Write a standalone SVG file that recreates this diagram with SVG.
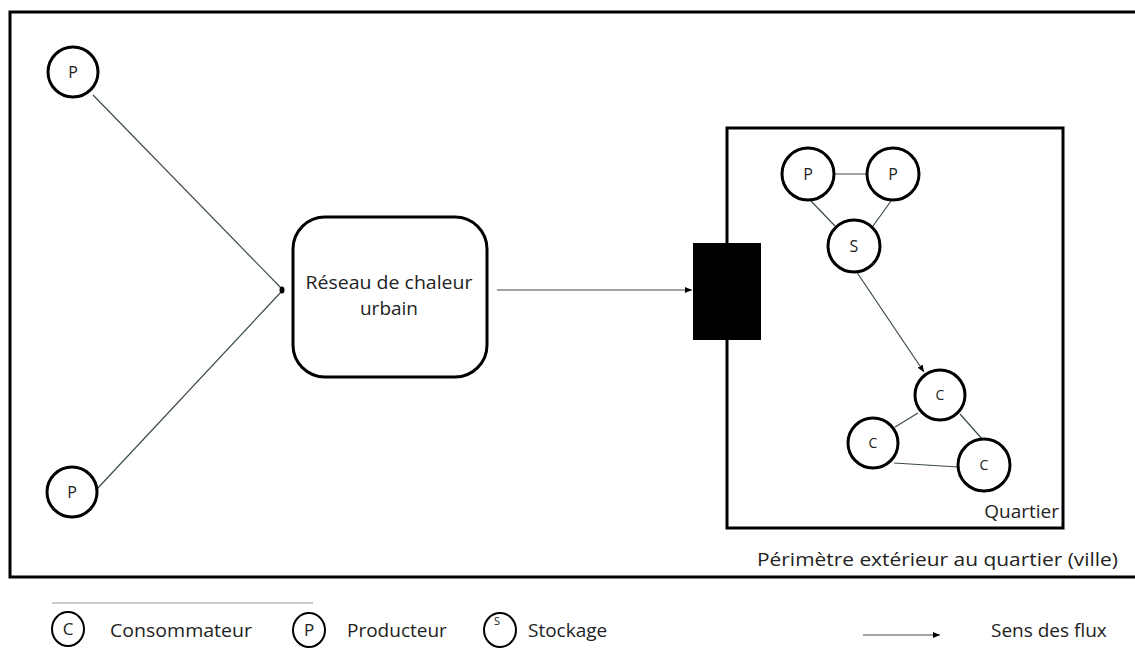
<svg xmlns="http://www.w3.org/2000/svg" width="1135" height="648" viewBox="0 0 1135 648">
<style>
.frame{fill:none;stroke:#000;stroke-width:3}
.node{fill:#fff;stroke:#000;stroke-width:3}
.lg{fill:#fff;stroke:#000;stroke-width:2}
.edge{fill:none;stroke:#3a4a4a;stroke-width:1.2}
text{font-family:"Open Sans","Liberation Sans",sans-serif;fill:#222}
.lbl{font-size:19px;text-anchor:middle}
.sm{font-size:16px;text-anchor:middle}
.c{font-size:14px;text-anchor:middle}
.t{font-size:19px}
</style>
<defs>
<marker id="ah" markerWidth="8" markerHeight="8" refX="7" refY="4" orient="auto" markerUnits="userSpaceOnUse">
<path d="M0,1 L7,4 L0,7 Z" fill="#000"/>
</marker>
</defs>
<rect width="1135" height="648" fill="#fff"/>
<g id="outer-frame">
<path class="frame" d="M1140,12 H10 V577 H1140"/>
<text class="t" x="757" y="566" textLength="361" lengthAdjust="spacingAndGlyphs">Périmètre extérieur au quartier (ville)</text>
</g>
<g id="quartier">
<rect class="frame" x="727" y="128" width="336" height="400"/>
<text class="t" x="1059" y="518" text-anchor="end">Quartier</text>
</g>
<g id="connectors">
<line class="edge" x1="93" y1="95" x2="282" y2="289"/>
<line class="edge" x1="97" y1="489" x2="282" y2="291"/>
<line class="edge" x1="497" y1="290" x2="692" y2="290" marker-end="url(#ah)"/>
<line class="edge" x1="834" y1="174" x2="867" y2="174"/>
<line class="edge" x1="811" y1="201" x2="835" y2="226"/>
<line class="edge" x1="891" y1="201" x2="873" y2="226"/>
<line class="edge" x1="856" y1="271" x2="924" y2="372" marker-end="url(#ah)"/>
<line class="edge" x1="918" y1="413" x2="895" y2="427"/>
<line class="edge" x1="960" y1="414" x2="983" y2="440"/>
<line class="edge" x1="894" y1="463" x2="958" y2="467"/>
<ellipse cx="282" cy="290" rx="2.5" ry="3.5" fill="#000"/>
</g>
<g id="p-top"><circle class="node" cx="73" cy="72" r="25"/><text class="sm" x="73" y="78">P</text></g>
<g id="p-bottom"><circle class="node" cx="72" cy="492" r="25"/><text class="sm" x="72" y="498">P</text></g>
<g id="reseau">
<rect class="frame" x="293" y="217" width="194" height="160" rx="32" stroke-width="2.5"/>
<text class="lbl" x="389" y="289" textLength="167" lengthAdjust="spacingAndGlyphs">Réseau de chaleur</text>
<text class="lbl" x="389" y="315">urbain</text>
</g>
<g id="jonction"><rect x="693" y="243" width="68" height="97" fill="#000"/></g>
<g id="q-p1"><circle class="node" cx="808" cy="174" r="26"/><text class="sm" x="808" y="180">P</text></g>
<g id="q-p2"><circle class="node" cx="893" cy="174" r="26"/><text class="sm" x="893" y="180">P</text></g>
<g id="q-s"><circle class="node" cx="854" cy="246" r="26"/><text class="sm" x="854" y="252">S</text></g>
<g id="q-c1"><circle class="node" cx="940" cy="395" r="25"/><text class="c" x="940" y="400">C</text></g>
<g id="q-c2"><circle class="node" cx="873" cy="443" r="25"/><text class="c" x="873" y="448">C</text></g>
<g id="q-c3"><circle class="node" cx="984" cy="465" r="26"/><text class="c" x="984" y="470">C</text></g>
<g id="legend">
<line x1="52" y1="603" x2="313" y2="603" stroke="#8a9a9a" stroke-width="1"/>
<ellipse class="lg" cx="68" cy="629" rx="16" ry="17"/><text x="68" y="635" font-size="17" text-anchor="middle">C</text>
<text class="t" x="110" y="637" textLength="142" lengthAdjust="spacingAndGlyphs">Consommateur</text>
<ellipse class="lg" cx="309" cy="630" rx="16" ry="17"/><text x="309" y="636" font-size="17" text-anchor="middle">P</text>
<text class="t" x="347" y="637">Producteur</text>
<ellipse class="lg" cx="500" cy="630" rx="16" ry="17"/><text x="497" y="625" font-size="11" text-anchor="middle">S</text>
<text class="t" x="528" y="637">Stockage</text>
<line class="edge" x1="863" y1="635" x2="940" y2="635" marker-end="url(#ah)"/>
<text class="t" x="991" y="637">Sens des flux</text>
</g>
</svg>
